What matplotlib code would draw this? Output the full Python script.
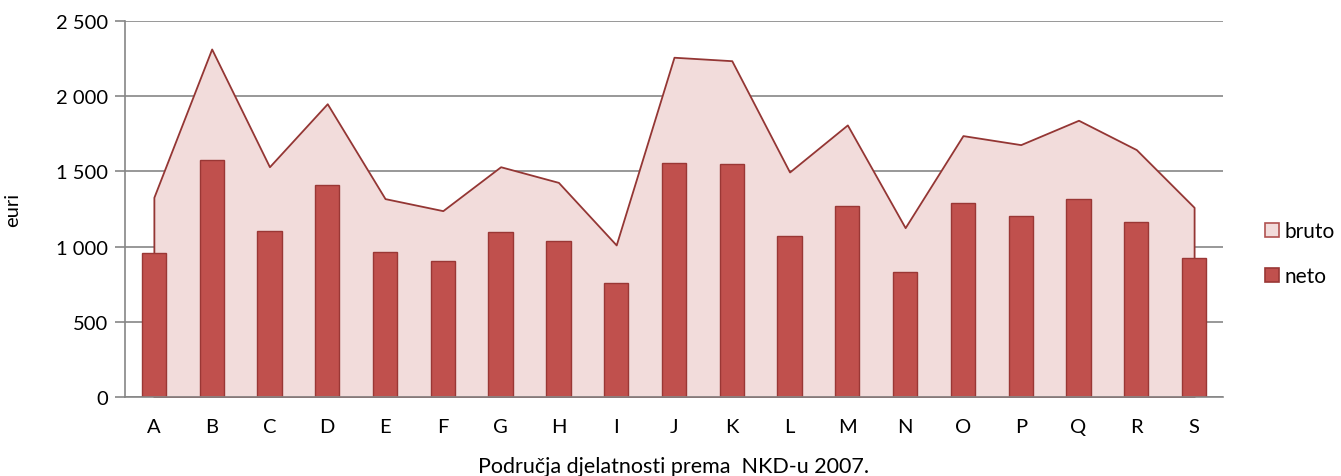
# plaće po područjima djelatnosti (bruto / neto)
import matplotlib.pyplot as plt
from matplotlib.patches import Patch
from matplotlib.ticker import FuncFormatter

# podaci
podrucja = ['A', 'B', 'C', 'D', 'E', 'F', 'G', 'H', 'I', 'J',
            'K', 'L', 'M', 'N', 'O', 'P', 'Q', 'R', 'S']
bruto = [1328, 2314, 1531, 1950, 1319, 1239, 1531, 1427, 1011, 2259,
         2236, 1496, 1809, 1126, 1738, 1678, 1840, 1645, 1261]
neto = [957, 1578, 1101, 1412, 966, 906, 1099, 1039, 760, 1556,
        1547, 1068, 1268, 831, 1290, 1203, 1316, 1164, 926]

plt.rcParams['font.family'] = ['Lato', 'DejaVu Sans']

fig = plt.figure(figsize=(13.41, 4.77), dpi=100)
ax = fig.add_axes([0.0932, 0.1656, 0.8188, 0.7883])

x = list(range(len(podrucja)))

# površina bruto
ax.fill_between(x, bruto, 0, facecolor='#F2DCDB', edgecolor='#943634',
                linewidth=1.3, zorder=2)
# stupci neto
ax.bar(x, neto, width=0.42, color='#C0504D', edgecolor='#9A3735',
       linewidth=1.0, zorder=3)

ax.set_xlim(-0.5, len(podrucja) - 0.5)
ax.set_ylim(0, 2500)
ax.set_yticks([0, 500, 1000, 1500, 2000, 2500])
ax.yaxis.set_major_formatter(FuncFormatter(lambda v, p: f'{int(v):,}'.replace(',', ' ')))
ax.set_xticks(x)
ax.set_xticklabels(podrucja)

ax.grid(axis='y', color='#868686', linewidth=1.2, zorder=0)
ax.set_axisbelow(True)
for s in ['top', 'right']:
    ax.spines[s].set_visible(False)
ax.spines['left'].set_color('#868686')
ax.spines['bottom'].set_color('#868686')
ax.spines['left'].set_linewidth(1.2)
ax.spines['bottom'].set_linewidth(1.2)
ax.spines['bottom'].set_zorder(4)
ax.tick_params(axis='y', length=7, width=1.2, color='#868686', labelsize=14.5, pad=5)
ax.tick_params(axis='x', length=0, labelsize=14.5, pad=15)

ax.set_ylabel('euri', fontsize=14.5, labelpad=25)
ax.set_xlabel('Područja djelatnosti prema  NKD-u 2007.', fontsize=15.5, labelpad=15)

handles = [Patch(facecolor='#F2DCDB', edgecolor='#B05250', linewidth=1.2),
           Patch(facecolor='#C0504D', edgecolor='#9A3735', linewidth=1.2)]
fig.legend(handles, ['bruto', 'neto'], loc='center left',
           bbox_to_anchor=(0.943, 0.466), frameon=False, fontsize=15,
           handlelength=0.7, handleheight=0.7, handletextpad=0.25,
           labelspacing=1.2, borderpad=0, borderaxespad=0)

plt.savefig('out.png')
